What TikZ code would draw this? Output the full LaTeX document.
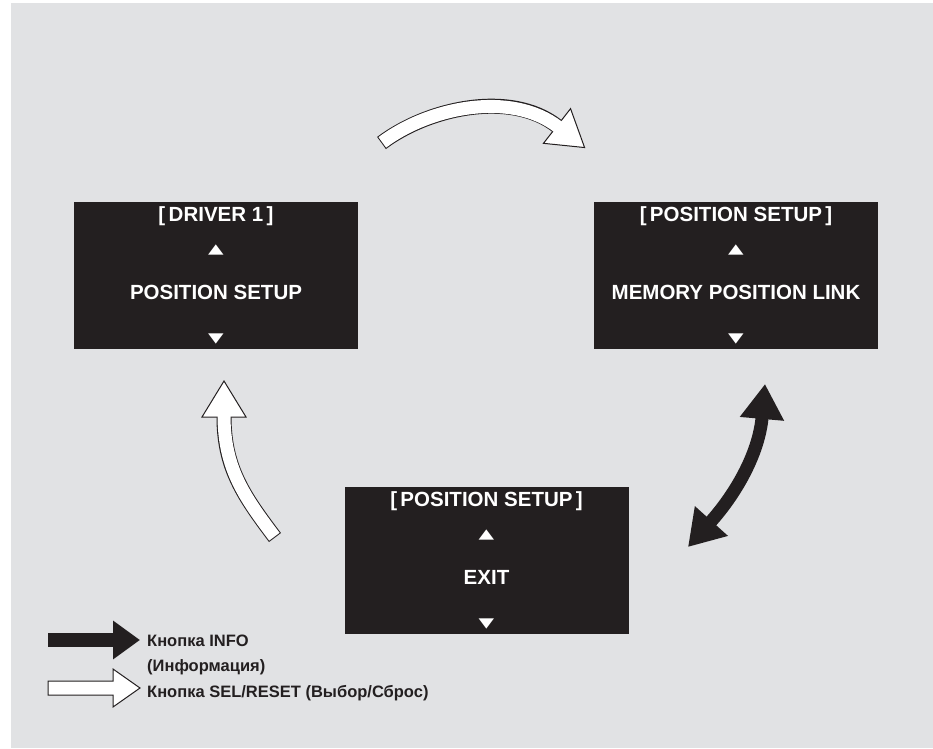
\documentclass[tikz,border=0pt]{standalone}
\usepackage{fontspec}
\setmainfont{Liberation Sans}
\newfontfamily\lcdfont{Liberation Sans}
\newfontfamily\symfont[FakeStretch=1.5]{DejaVu Sans}
\usetikzlibrary{arrows.meta,calc}
\definecolor{panel}{RGB}{225,226,228}
\definecolor{lcd}{RGB}{35,31,32}
\begin{document}
\begin{tikzpicture}[x=1pt, y=1pt,
        screen/.style={rectangle, fill=lcd, minimum width=284, minimum height=147, inner sep=0},
        lcdline/.style={text=white, font=\lcdfont\bfseries\fontsize{20.5}{24}\selectfont, anchor=base, inner sep=0},
        lcdmark/.style={text=white, font=\symfont\fontsize{13.5}{14}\selectfont, anchor=base, inner sep=0},
        legend/.style={text=lcd, font=\bfseries\fontsize{16.5}{20}\selectfont, anchor=base west, inner sep=0},
        infoarrow/.style={draw=lcd, line width=13, {Triangle[length=35pt,width=42pt]}-{Triangle[length=35pt,width=42pt]}},
        selshaft/.style={draw=lcd, line width=15},
        selfill/.style={draw=white, line width=13, shorten <=1, shorten >=-2},
        selhead/.style={fill=white, draw=lcd, line width=1}
    ]
        \useasboundingbox (0,0) rectangle (933,748);
        \fill[panel] (11,0) rectangle (933,745);

        \node[screen] (B1) at (216,472.5) {};
        \node[screen] (B2) at (736,472.5) {};
        \node[screen] (B3) at (486.5,187.5) {};

        \node[lcdline] (B1t) at ([yshift=-20]B1.north) {[\,DRIVER 1\,]};
        \node[lcdmark] (B1u) at ([yshift=-51.5]B1.north) {▲};
        \node[lcdline] (B1m) at ([yshift=-98]B1.north) {POSITION SETUP};
        \node[lcdmark] (B1d) at ([yshift=-140.5]B1.north) {▼};

        \node[lcdline] (B2t) at ([yshift=-20]B2.north) {[\,POSITION SETUP\,]};
        \node[lcdmark] (B2u) at ([yshift=-51.5]B2.north) {▲};
        \node[lcdline] (B2m) at ([yshift=-98]B2.north) {MEMORY POSITION LINK};
        \node[lcdmark] (B2d) at ([yshift=-140.5]B2.north) {▼};

        \node[lcdline] (B3t) at ([yshift=-20]B3.north) {[\,POSITION SETUP\,]};
        \node[lcdmark] (B3u) at ([yshift=-51.5]B3.north) {▲};
        \node[lcdline] (B3m) at ([yshift=-98]B3.north) {EXIT};
        \node[lcdmark] (B3d) at ([yshift=-140.5]B3.north) {▼};

        \coordinate (selA) at (381.5,605);
        \coordinate (selAh) at (557,622);
        \coordinate (selB) at (275,210.5);
        \coordinate (selBh) at (224,331);
        \coordinate (infoLo) at (688,201);
        \coordinate (infoUp) at (765,364);

        \draw[selshaft] (selA) to[out=37, in=142, looseness=0.85] (selAh);
        \draw[selhead] ($(selAh)+(52:22)$) -- ($(selAh)+(-38:35)$) -- ($(selAh)+(232:22)$) -- cycle;
        \draw[selfill] (selA) to[out=37, in=142, looseness=0.85] (selAh);

        \draw[selshaft] (selB) to[out=127, in=270] (selBh);
        \draw[selhead] ($(selBh)+(0:22)$) -- ($(selBh)+(90:36)$) -- ($(selBh)+(180:22)$) -- cycle;
        \draw[selfill] (selB) to[out=127, in=270] (selBh);

        \draw[infoarrow] (infoLo) to[out=48, in=265] (infoUp);

        \coordinate (keyA) at (48,108);
        \coordinate (keyB) at (140,108);
        \draw[draw=lcd, line width=14.6, -{Triangle[length=27pt,width=37pt]}] (keyA) -- (keyB);
        \draw[selhead] (48,53) -- (113,53) -- (113,41) -- (140,60) -- (113,79) -- (113,67) -- (48,67) -- cycle;

        \node[legend] (L1) at (147,101.5) {Кнопка INFO};
        \node[legend] (L2) at (147,77) {(Информация)};
        \node[legend] (L3) at (147,51) {Кнопка SEL/RESET (Выбор/Сброс)};
    \end{tikzpicture}
\end{document}
